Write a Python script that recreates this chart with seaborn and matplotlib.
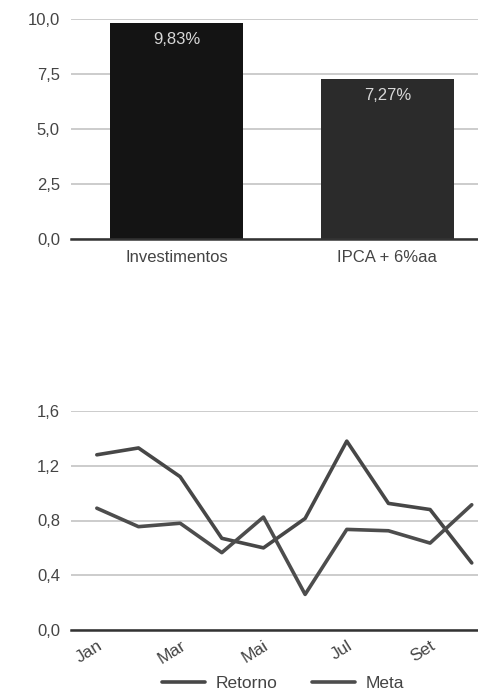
import numpy as np
import pandas as pd
import matplotlib
matplotlib.use('Agg')
import matplotlib.pyplot as plt
import seaborn as sns

# dados do grafico de barras (acumulado)
categorias = ['Investimentos', 'IPCA + 6%aa']
acumulado = [9.83, 7.27]
rotulos_barras = ['9,83%', '7,27%']
cores_barras = ['#141414', '#2b2b2b']

# dados mensais
meses = ['Jan', 'Fev', 'Mar', 'Abr', 'Mai', 'Jun', 'Jul', 'Ago', 'Set', 'Out']
retorno = [1.28, 1.33, 1.12, 0.67, 0.60, 0.815, 1.38, 0.925, 0.88, 0.49]
meta = [0.89, 0.755, 0.78, 0.565, 0.825, 0.26, 0.735, 0.725, 0.635, 0.915]

sns.set_style('white')
plt.rcParams['font.family'] = ['Liberation Sans', 'DejaVu Sans']
cinza_txt = '#444444'

fig = plt.figure(figsize=(4.78, 6.93), dpi=100)

# =============================================================================
# grafico de barras
# =============================================================================
ax1 = fig.add_axes([71/478, 1-239/693, 1-71/478, (239-19)/693])
df_bar = pd.DataFrame({'cat': categorias, 'val': acumulado})
sns.barplot(data=df_bar, x='cat', y='val', hue='cat', palette=cores_barras,
            width=0.63, legend=False, ax=ax1, saturation=1, linewidth=0)
ax1.set_xlim(-0.5, 1.43)
ax1.set_ylim(0, 10)
ax1.set_yticks([0, 2.5, 5, 7.5, 10])
ax1.set_yticklabels(['0,0', '2,5', '5,0', '7,5', '10,0'])
ax1.set_xlabel('')
ax1.set_ylabel('')
ax1.yaxis.grid(True, color='#c4c4c4', linewidth=1.2)
ax1.set_axisbelow(True)
for s in ['left', 'right', 'top']:
    ax1.spines[s].set_visible(False)
ax1.spines['bottom'].set_color('#333333')
ax1.spines['bottom'].set_linewidth(1.8)
ax1.tick_params(axis='both', length=0, labelsize=12, colors=cinza_txt, pad=8)
for i, r in enumerate(rotulos_barras):
    ax1.text(i, acumulado[i] - 0.42, r, ha='center', va='top',
             color='#d8d8d8', fontsize=12)

# =============================================================================
# grafico de linhas
# =============================================================================
ax2 = fig.add_axes([71/478, 1-630/693, 1-71/478, (630-411)/693])
df_lin = pd.DataFrame({
    'mes': list(range(len(meses))) * 2,
    'valor': retorno + meta,
    'serie': ['Retorno'] * len(meses) + ['Meta'] * len(meses),
})
sns.lineplot(data=df_lin, x='mes', y='valor', hue='serie',
             palette={'Retorno': '#474747', 'Meta': '#4d4d4d'},
             linewidth=2.6, ax=ax2, legend=True)
ax2.set_xlim(-0.62, 9.15)
ax2.set_ylim(0, 1.6)
ax2.set_yticks([0, 0.4, 0.8, 1.2, 1.6])
ax2.set_yticklabels(['0,0', '0,4', '0,8', '1,2', '1,6'])
ax2.set_xticks(range(0, len(meses), 2))
ax2.set_xticklabels(meses[::2], rotation=32, ha='right', rotation_mode='anchor')
ax2.set_xlabel('')
ax2.set_ylabel('')
ax2.yaxis.grid(True, color='#c4c4c4', linewidth=1.2)
ax2.set_axisbelow(True)
for s in ['left', 'right', 'top']:
    ax2.spines[s].set_visible(False)
ax2.spines['bottom'].set_color('#333333')
ax2.spines['bottom'].set_linewidth(1.8)
ax2.tick_params(axis='y', length=0, labelsize=12, colors=cinza_txt, pad=8)
ax2.tick_params(axis='x', length=0, labelsize=12.5, colors=cinza_txt, pad=6)

h, l = ax2.get_legend_handles_labels()
ax2.get_legend().remove()
fig.legend(h, l, loc='center', bbox_to_anchor=(283/478, 1-683/693), ncol=2,
           frameon=False, fontsize=12.5, handlelength=2.5, columnspacing=2.0,
           handletextpad=0.6, labelcolor=cinza_txt)

fig.savefig('out.png', dpi=100)
